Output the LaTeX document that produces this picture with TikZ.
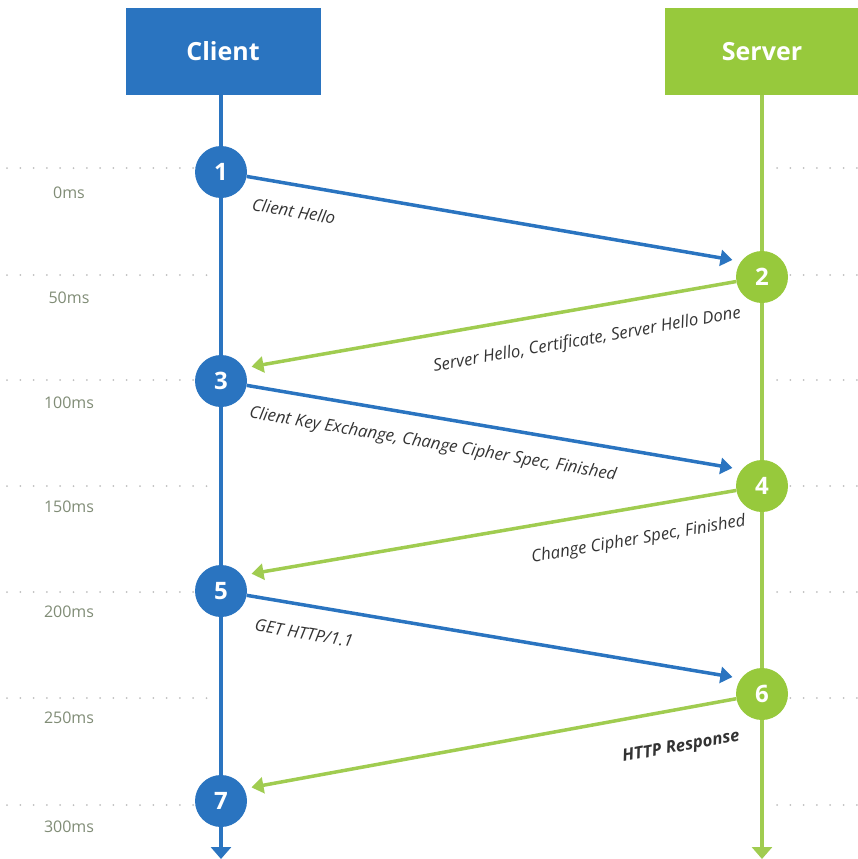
\documentclass[tikz,border=0pt]{standalone}
\usepackage{fontspec}
\setmainfont{Open Sans}
\usepackage{tikz}
\usetikzlibrary{arrows.meta, positioning, calc}

\definecolor{cblue}{RGB}{42,116,192}
\definecolor{sgreen}{RGB}{151,201,60}
\definecolor{lgreen}{RGB}{160,204,80}
\definecolor{tgrey}{RGB}{128,140,118}

\begin{document}
\begin{tikzpicture}[
    x=1pt, y=-1pt,
    actor/.style={rectangle, minimum width=195pt, minimum height=87pt, text=white, font=\fontsize{25}{30}\selectfont\bfseries},
    stepnum/.style={circle, minimum size=52pt, inner sep=0pt, text=white, font=\fontsize{24}{28}\selectfont\bfseries},
    life/.style={line width=4pt, -{Triangle[length=12pt, width=20pt]}},
    msgb/.style={draw=cblue, line width=3.5pt, -{Triangle[length=12pt, width=16pt]}, shorten >=30pt},
    msgg/.style={draw=lgreen, line width=3.5pt, -{Triangle[length=12pt, width=16pt]}, shorten >=31pt},
    lbl/.style={sloped, inner sep=2pt, text=black!80, font=\fontsize{16.8}{20}\selectfont\itshape},
    guide/.style={draw=gray!50, line width=2pt, line cap=round, dash pattern=on 0pt off 13.3pt},
    tlbl/.style={text=tgrey, font=\fontsize{16}{19}\selectfont}
]
\useasboundingbox (0,0) rectangle (858,859);

% time grid
\draw[guide] (7,168) -- (208,168);
\draw[guide] (7,275) -- (208,275);
\draw[guide] (7,380) -- (208,380);
\draw[guide] (7,486) -- (208,486);
\draw[guide] (7,592) -- (208,592);
\draw[guide] (7,698) -- (208,698);
\draw[guide] (7,805) -- (208,805);
\draw[guide] (777,168) -- (858,168);
\draw[guide] (777,275) -- (858,275);
\draw[guide] (777,380) -- (858,380);
\draw[guide] (777,486) -- (858,486);
\draw[guide] (777,592) -- (858,592);
\draw[guide] (777,698) -- (858,698);
\draw[guide] (777,805) -- (858,805);

\node[tlbl] (t0) at (69,193) {0ms};
\node[tlbl] (t50) at (69,298) {50ms};
\node[tlbl] (t100) at (69,403) {100ms};
\node[tlbl] (t150) at (69,507) {150ms};
\node[tlbl] (t200) at (69,612) {200ms};
\node[tlbl] (t250) at (69,718) {250ms};
\node[tlbl] (t300) at (69,827) {300ms};

% actors
\node[actor, fill=cblue] (client) at (223,51.5) {Client};
\node[actor, fill=sgreen] (server) at (762,51.5) {Server};

% steps
\node[stepnum, fill=cblue] (s1) at (221,172) {1};
\node[stepnum, fill=sgreen] (s2) at (762,277) {2};
\node[stepnum, fill=cblue] (s3) at (221,381) {3};
\node[stepnum, fill=sgreen] (s4) at (762,486) {4};
\node[stepnum, fill=cblue] (s5) at (221,591) {5};
\node[stepnum, fill=sgreen] (s6) at (762,694) {6};
\node[stepnum, fill=cblue] (s7) at (221,801) {7};

\coordinate (cend) at (221,859);
\coordinate (send) at (762,859);

% lifelines
\draw[life, cblue] (client.south -| s1) -- (s1) -- (s3) -- (s5) -- (s7) -- (cend);
\draw[life, lgreen] (server) -- (s2) -- (s4) -- (s6) -- (send);

% messages
\draw[msgb] (s1) -- node[lbl, pos=0.1, below=16pt] {Client Hello} ([yshift=12pt]s2.center);
\draw[msgg] (s2) -- node[lbl, pos=0.3, below=20pt] {Server Hello, Certificate, Server Hello Done} ([yshift=9pt]s3.center);
\draw[msgb] (s3) -- node[lbl, pos=0.37, below=15pt] {Client Key Exchange, Change Cipher Spec, Finished} ([yshift=13pt]s4.center);
\draw[msgg] (s4) -- node[lbl, pos=0.2, below=20pt] {Change Cipher Spec, Finished} ([yshift=12pt]s5.center);
\draw[msgb] (s5) -- node[lbl, pos=0.12, below=18pt] {GET HTTP/1.1} ([yshift=12pt]s6.center);
\draw[msgg] (s6) -- node[lbl, pos=0.12, below=26pt, font=\fontsize{16.8}{20}\selectfont\bfseries\itshape] {HTTP Response} ([yshift=8pt]s7.center);

\end{tikzpicture}
\end{document}
